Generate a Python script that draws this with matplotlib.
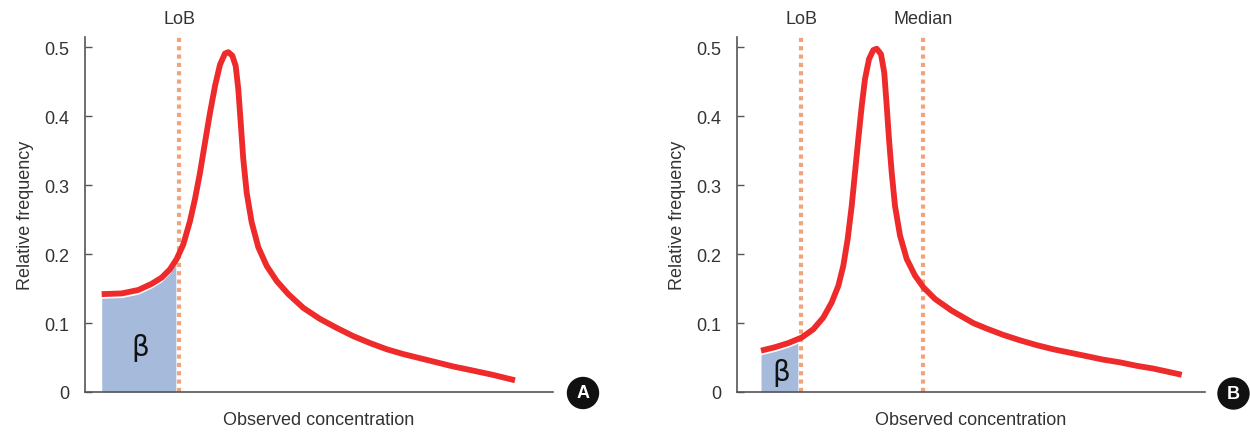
import matplotlib
matplotlib.use("Agg")
import matplotlib.pyplot as plt
from matplotlib.patches import Circle
from matplotlib.transforms import blended_transform_factory

plt.rcParams['font.family'] = ['Liberation Sans Narrow', 'Liberation Sans', 'DejaVu Sans']

# ---- data (arbitrary concentration units) ----
a_x = [3.57, 7.84, 11.39, 14.25, 16.39, 18.16, 19.59, 21.0, 22.44, 23.5, 24.57, 25.64,
       26.71, 27.78, 28.85, 29.91, 30.62, 31.47, 32.2, 32.76, 33.27, 33.82, 34.55, 35.62,
       37.03, 38.82, 40.96, 43.44, 46.65, 50.21, 53.78, 57.33, 60.9, 64.47, 68.01, 71.58,
       75.15, 78.7, 82.26, 87.07, 91.88]
a_y = [0.142, 0.143, 0.148, 0.157, 0.166, 0.178, 0.193, 0.214, 0.248, 0.280, 0.318, 0.362,
       0.405, 0.444, 0.475, 0.491, 0.493, 0.488, 0.473, 0.439, 0.391, 0.338, 0.289, 0.246,
       0.210, 0.183, 0.161, 0.142, 0.122, 0.106, 0.093, 0.081, 0.071, 0.062, 0.055, 0.049,
       0.043, 0.037, 0.032, 0.025, 0.017]
a_lob = 20.1
a_fill_end = 19.4

b_x = [5.13, 8.12, 10.96, 13.82, 16.3, 18.44, 20.24, 21.65, 22.71, 23.65, 24.51, 25.21,
       25.92, 26.65, 27.35, 28.21, 29.12, 29.85, 30.77, 31.47, 31.99, 32.48, 33.06, 33.76,
       34.83, 36.26, 38.03, 39.81, 42.31, 45.88, 50.49, 53.35, 56.84, 60.47, 64.04, 67.59,
       71.15, 74.72, 78.21, 81.84, 85.41, 88.95, 95.02]
b_y = [0.060, 0.065, 0.071, 0.079, 0.091, 0.108, 0.130, 0.154, 0.183, 0.222, 0.270, 0.318,
       0.367, 0.415, 0.454, 0.483, 0.496, 0.498, 0.490, 0.463, 0.415, 0.367, 0.318, 0.270,
       0.227, 0.193, 0.169, 0.152, 0.135, 0.118, 0.100, 0.092, 0.083, 0.075, 0.068, 0.062,
       0.057, 0.052, 0.047, 0.043, 0.038, 0.034, 0.025]
b_lob = 13.7
b_median = 39.74
b_fill_end = 13.0

yticks = [0, 0.1, 0.2, 0.3, 0.4, 0.5]
ytick_labels = ['0', '0.1', '0.2', '0.3', '0.4', '0.5']

RED = '#EE2A2A'
FILL = '#A6BBDC'
DOT = '#F0A47E'
AXC = '#555555'
TXT = '#333333'

fig = plt.figure(figsize=(12.5, 4.35), dpi=100)
W, H = 1250, 435
ax1 = fig.add_axes([85 / W, (H - 393) / H, (553 - 85) / W, (393 - 38) / H])
ax2 = fig.add_axes([737 / W, (H - 393) / H, (1205 - 737) / W, (393 - 38) / H])


def interp(xs, ys, x):
    for i in range(len(xs) - 1):
        if xs[i] <= x <= xs[i + 1]:
            t = (x - xs[i]) / (xs[i + 1] - xs[i])
            return ys[i] + t * (ys[i + 1] - ys[i])
    return ys[-1]


def panel(ax, xs, ys, fill_end, vlines, beta_xy):
    fx = [x for x in xs if x <= fill_end] + [fill_end]
    fy = [y for x, y in zip(xs, ys) if x <= fill_end] + [interp(xs, ys, fill_end)]
    fy = [y - 0.006 for y in fy]
    ax.fill_between(fx, 0, fy, color=FILL, lw=0, zorder=1)
    for vx, lab in vlines:
        ax.plot([vx, vx], [0, 0.515], color=DOT, lw=3.0, ls=(0, (1.0, 1.0)),
                solid_capstyle='butt', dash_capstyle='butt', zorder=2)
        trans = blended_transform_factory(ax.transData, ax.transAxes)
        ax.text(vx, (393 - 20) / 355, lab, transform=trans, ha='center', va='center',
                fontsize=13, color=TXT, clip_on=False)
    ax.plot(xs, ys, color=RED, lw=4.2, solid_joinstyle='round', solid_capstyle='butt', zorder=3)
    ax.text(beta_xy[0], beta_xy[1], 'β', ha='center', va='center', fontsize=20, color='#111111',
            family=['DejaVu Sans'], zorder=4)
    ax.set_xlim(0, 100)
    ax.set_ylim(0, 0.515)
    for s in ['top', 'right']:
        ax.spines[s].set_visible(False)
    for s in ['left', 'bottom']:
        ax.spines[s].set_color(AXC)
        ax.spines[s].set_linewidth(1.2)
    ax.set_xticks([])
    ax.set_yticks(yticks)
    ax.set_yticklabels(ytick_labels)
    ax.tick_params(axis='y', direction='in', length=5, width=1.0, color=AXC,
                   labelsize=13, labelcolor=TXT, pad=11)
    ax.set_ylabel('Relative frequency', fontsize=13, color=TXT, labelpad=8)
    ax.set_xlabel('Observed concentration', fontsize=13, color=TXT, labelpad=14)


panel(ax1, a_x, a_y, a_fill_end, [(a_lob, 'LoB')], (11.75, 0.065))
panel(ax2, b_x, b_y, b_fill_end, [(b_lob, 'LoB'), (b_median, 'Median')], (9.4, 0.029))

for (cx, cy, lab) in [(583, 394, 'A'), (1233.5, 394.5, 'B')]:
    c = Circle((cx / 100, (H - cy) / 100), 0.155, transform=fig.dpi_scale_trans,
               color='#111111', zorder=10)
    fig.patches.append(c)
    fig.text(cx / W, (H - cy) / H, lab, ha='center', va='center', color='white',
             fontsize=13, fontweight='bold', family=['Liberation Sans', 'DejaVu Sans'], zorder=11)

fig.savefig('out.png', dpi=100)
